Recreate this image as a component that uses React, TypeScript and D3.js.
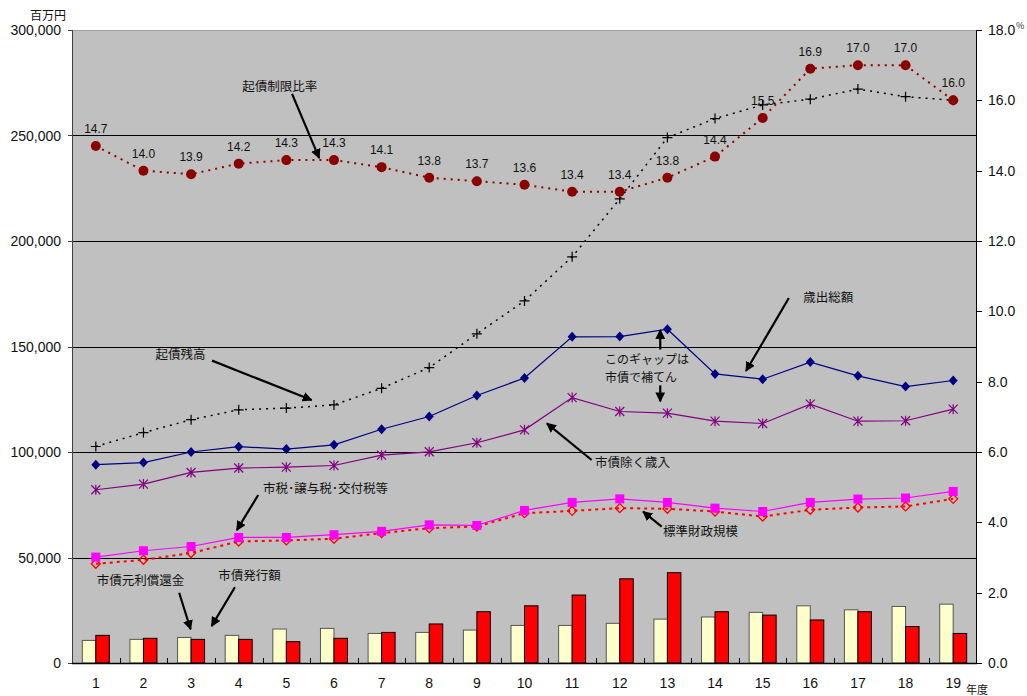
import React, { useEffect, useRef } from 'react'
import * as d3 from 'd3'

// 年度
const years = ['1', '2', '3', '4', '5', '6', '7', '8', '9', '10', '11', '12', '13', '14', '15', '16', '17', '18', '19']
// 起債制限比率 (%)
const ratio = [14.7, 14.0, 13.9, 14.2, 14.3, 14.3, 14.1, 13.8, 13.7, 13.6, 13.4, 13.4, 13.8, 14.4, 15.5, 16.9, 17.0, 17.0, 16.0]
// 百万円
const debtBalance = [102600, 109200, 115300, 120000, 120800, 122300, 130200, 140000, 156000, 171600, 192500, 220000, 249000, 258000, 264500, 267200, 272000, 268400, 266700]
const expenditure = [94000, 95000, 100000, 102500, 101400, 103400, 110800, 116800, 126800, 135100, 154600, 154700, 158200, 137000, 134500, 142600, 136100, 131000, 133900]
const revenueExBonds = [82100, 84800, 90300, 92400, 92800, 93600, 98500, 100100, 104400, 110500, 125800, 119200, 118400, 114600, 113500, 122700, 114600, 114800, 120300]
const taxes = [50200, 53200, 55200, 59500, 59500, 60800, 62400, 65500, 65200, 72300, 76100, 77800, 76100, 73400, 71800, 76100, 77700, 78200, 81300]
const standardScale = [47000, 48900, 52100, 57600, 58100, 58900, 61600, 63900, 64700, 71000, 72100, 73400, 73100, 71800, 69400, 72600, 73700, 74200, 77800]
const repayment = [10700, 11200, 12100, 13100, 16100, 16400, 14000, 14500, 15600, 17800, 17800, 18800, 20800, 21800, 24000, 27100, 25200, 26800, 27900]
const issuance = [13100, 11700, 11200, 11200, 10100, 11700, 14500, 18500, 24300, 27100, 32200, 39900, 42800, 24300, 22700, 20400, 24300, 17300, 14000]

const leftTicks = [0, 50000, 100000, 150000, 200000, 250000, 300000]
const rightTicks = [0, 2, 4, 6, 8, 10, 12, 14, 16, 18]

// annotations in data units (x = year position, y = 百万円)
const notes = [
  { lines: ['起債制限比率'], x: 4.86, y: 273400, anchor: 'middle', from: [5.12, 269700], to: [5.69, 239300] },
  { lines: ['起債残高'], x: 2.78, y: 146000, anchor: 'middle', from: [3.44, 143300], to: [5.53, 124600] },
  { lines: ['市税･譲与税･交付税等'], x: 4.51, y: 82500, anchor: 'start', from: [4.41, 79600], to: [3.96, 63000] },
  { lines: ['歳出総額'], x: 15.85, y: 173400, anchor: 'start', from: [15.55, 173000], to: [14.65, 138400] },
  { lines: ['このギャップは', '市債で補てん'], x: 11.69, y: 143600, anchor: 'start', from: [12.85, 148600], to: [12.85, 157800] },
  { lines: [], x: 0, y: 0, anchor: 'start', from: [12.85, 131600], to: [12.85, 124000] },
  { lines: ['市債除く歳入'], x: 11.48, y: 94800, anchor: 'start', from: [11.41, 96200], to: [10.47, 113600] },
  { lines: ['標準財政規模'], x: 12.91, y: 62200, anchor: 'start', from: [12.88, 64600], to: [12.49, 71700] },
  { lines: ['市債元利償還金'], x: 1.02, y: 39000, anchor: 'start', from: [2.75, 33300], to: [2.99, 16000] },
  { lines: ['市債発行額'], x: 3.57, y: 41400, anchor: 'start', from: [3.92, 35900], to: [3.43, 17500] },
]

const W = 1027
const H = 696
const FONT = '"Liberation Sans", "Noto Sans CJK JP", sans-serif'
const JP = '"Noto Sans CJK JP", sans-serif'

export default function App() {
  const ref = useRef<SVGSVGElement>(null)

  useEffect(() => {
    const svg = d3.select(ref.current)
    svg.selectAll('*').remove()

    const left = 72, right = 977, top = 30, bottom = 663
    const x = d3.scaleLinear().domain([0.5, years.length + 0.5]).range([left, right])
    const y = d3.scaleLinear().domain([0, 300000]).range([bottom, top])
    const yR = d3.scaleLinear().domain([0, 18]).range([bottom, top])
    const cx = (i: number) => x(i + 1)

    svg.append('defs').append('marker')
      .attr('id', 'ah').attr('viewBox', '0 0 10 10').attr('refX', 9).attr('refY', 5)
      .attr('markerWidth', 4.5).attr('markerHeight', 4.5).attr('orient', 'auto')
      .attr('markerUnits', 'strokeWidth')
      .append('path').attr('d', 'M0,0 L10,5 L0,10 Z').attr('fill', '#000')

    // plot area
    svg.append('rect').attr('x', left).attr('y', top).attr('width', right - left).attr('height', bottom - top)
      .attr('fill', '#c0c0c0')
    svg.append('line').attr('x1', left).attr('x2', right).attr('y1', top + 0.5).attr('y2', top + 0.5)
      .attr('stroke', '#a0a0a0').attr('stroke-width', 1)

    svg.selectAll('line.grid').data(leftTicks.filter(d => d > 0 && d < 300000)).enter()
      .append('line').attr('class', 'grid')
      .attr('x1', left).attr('x2', right)
      .attr('y1', d => Math.round(y(d)) + 0.5).attr('y2', d => Math.round(y(d)) + 0.5)
      .attr('stroke', '#000').attr('stroke-width', 1)

    // bars
    const bw = 13.5
    const bars = svg.append('g')
    bars.selectAll('rect.rep').data(repayment).enter().append('rect')
      .attr('x', (d, i) => cx(i) - bw).attr('width', bw)
      .attr('y', d => y(d)).attr('height', d => bottom - y(d))
      .attr('fill', '#ffffcc').attr('stroke', '#555').attr('stroke-width', 1)
    bars.selectAll('rect.iss').data(issuance).enter().append('rect')
      .attr('x', (d, i) => cx(i)).attr('width', bw)
      .attr('y', d => y(d)).attr('height', d => bottom - y(d))
      .attr('fill', '#ff0000').attr('stroke', '#000').attr('stroke-width', 1)

    // axes
    svg.append('line').attr('x1', left + 0.5).attr('x2', left + 0.5).attr('y1', top).attr('y2', bottom)
      .attr('stroke', '#404040')
    svg.append('line').attr('x1', right - 0.5).attr('x2', right - 0.5).attr('y1', top).attr('y2', bottom)
      .attr('stroke', '#000')
    svg.append('line').attr('x1', left).attr('x2', right).attr('y1', bottom + 0.5).attr('y2', bottom + 0.5)
      .attr('stroke', '#000').attr('stroke-width', 1.5)

    svg.selectAll('line.lt').data(leftTicks).enter().append('line')
      .attr('x1', left - 4).attr('x2', left).attr('y1', d => Math.round(y(d)) + 0.5).attr('y2', d => Math.round(y(d)) + 0.5)
      .attr('stroke', '#404040')
    svg.selectAll('text.lt').data(leftTicks).enter().append('text')
      .attr('x', 61).attr('y', d => y(d)).attr('dy', '0.36em').attr('text-anchor', 'end')
      .attr('font-family', FONT).attr('font-size', 14).attr('fill', '#111')
      .text(d => d3.format(',')(d))

    svg.selectAll('line.rt').data(rightTicks).enter().append('line')
      .attr('x1', right).attr('x2', right + 5).attr('y1', d => Math.round(yR(d)) + 0.5).attr('y2', d => Math.round(yR(d)) + 0.5)
      .attr('stroke', '#000')
    svg.selectAll('text.rt').data(rightTicks).enter().append('text')
      .attr('x', 988).attr('y', d => yR(d)).attr('dy', '0.36em')
      .attr('font-family', FONT).attr('font-size', 14).attr('fill', '#111')
      .text(d => d3.format('.1f')(d))
    svg.append('text').attr('x', 1016).attr('y', 29).attr('font-family', JP).attr('font-size', 9).attr('fill', '#333').text('%')

    svg.selectAll('line.xt').data(d3.range(1, years.length)).enter().append('line')
      .attr('x1', d => Math.round(x(d + 0.5)) + 0.5).attr('x2', d => Math.round(x(d + 0.5)) + 0.5)
      .attr('y1', bottom - 5).attr('y2', bottom).attr('stroke', '#000')
    svg.selectAll('text.xt').data(years).enter().append('text')
      .attr('x', (d, i) => cx(i)).attr('y', 688).attr('text-anchor', 'middle')
      .attr('font-family', FONT).attr('font-size', 14).attr('fill', '#111')
      .text(d => d)

    svg.append('text').attr('x', 30).attr('y', 20).attr('font-family', JP).attr('font-size', 12).attr('fill', '#111').text('百万円')
    svg.append('text').attr('x', 966).attr('y', 694).attr('font-family', JP).attr('font-size', 11).attr('fill', '#111').text('年度')

    const line = (vals: number[], sc: d3.ScaleLinear<number, number>) =>
      d3.line<number>().x((d, i) => cx(i)).y(d => sc(d))(vals)

    // 標準財政規模
    svg.append('path').attr('d', line(standardScale, y)).attr('fill', 'none')
      .attr('stroke', '#ff0000').attr('stroke-width', 2).attr('stroke-dasharray', '3,4')
    svg.selectAll('path.std').data(standardScale).enter().append('path')
      .attr('transform', (d, i) => `translate(${cx(i)},${y(d)})`)
      .attr('d', 'M0,-4.5 L4.5,0 L0,4.5 L-4.5,0 Z').attr('fill', 'none').attr('stroke', '#ff0000').attr('stroke-width', 1.3)

    // 市税・譲与税・交付税等
    svg.append('path').attr('d', line(taxes, y)).attr('fill', 'none').attr('stroke', '#ff00ff').attr('stroke-width', 1.2)
    svg.selectAll('rect.tax').data(taxes).enter().append('rect')
      .attr('x', (d, i) => cx(i) - 4.5).attr('y', d => y(d) - 4.5).attr('width', 9).attr('height', 9).attr('fill', '#ff00ff')

    // 市債除く歳入
    svg.append('path').attr('d', line(revenueExBonds, y)).attr('fill', 'none').attr('stroke', '#800080').attr('stroke-width', 1.2)
    svg.selectAll('path.rev').data(revenueExBonds).enter().append('path')
      .attr('transform', (d, i) => `translate(${cx(i)},${y(d)})`)
      .attr('d', 'M0,-5 L0,5 M-4.5,-4.5 L4.5,4.5 M-4.5,4.5 L4.5,-4.5').attr('stroke', '#800080').attr('stroke-width', 1.2)

    // 歳出総額
    svg.append('path').attr('d', line(expenditure, y)).attr('fill', 'none').attr('stroke', '#000080').attr('stroke-width', 1.2)
    svg.selectAll('path.exp').data(expenditure).enter().append('path')
      .attr('transform', (d, i) => `translate(${cx(i)},${y(d)})`)
      .attr('d', 'M0,-5 L4.5,0 L0,5 L-4.5,0 Z').attr('fill', '#000080')

    // 起債残高
    svg.append('path').attr('d', line(debtBalance, y)).attr('fill', 'none')
      .attr('stroke', '#000').attr('stroke-width', 1.5).attr('stroke-dasharray', '2,5')
    svg.selectAll('path.debt').data(debtBalance).enter().append('path')
      .attr('transform', (d, i) => `translate(${cx(i)},${y(d)})`)
      .attr('d', 'M-5,0 L5,0 M0,-5 L0,5').attr('stroke', '#000').attr('stroke-width', 1.2)

    // 起債制限比率
    svg.append('path').attr('d', line(ratio, yR)).attr('fill', 'none')
      .attr('stroke', '#8b0000').attr('stroke-width', 2).attr('stroke-dasharray', '2,5')
    svg.selectAll('circle.ratio').data(ratio).enter().append('circle')
      .attr('cx', (d, i) => cx(i)).attr('cy', d => yR(d)).attr('r', 5).attr('fill', '#8b0000')
    svg.selectAll('text.ratio').data(ratio).enter().append('text')
      .attr('x', (d, i) => cx(i)).attr('y', d => yR(d) - 13).attr('text-anchor', 'middle')
      .attr('font-family', FONT).attr('font-size', 12).attr('fill', '#111')
      .text(d => d3.format('.1f')(d))

    // annotations
    const ann = svg.append('g')
    notes.forEach(n => {
      const multi = n.lines.length > 1
      n.lines.forEach((s, k) => {
        ann.append('text').attr('x', x(n.x)).attr('y', y(n.y) + k * 17.5).attr('dy', '0.36em')
          .attr('text-anchor', n.anchor).attr('font-family', JP).attr('font-size', multi ? 12 : 12.5)
          .attr('fill', '#111').text(s)
      })
      ann.append('line').attr('x1', x(n.from[0])).attr('y1', y(n.from[1]))
        .attr('x2', x(n.to[0])).attr('y2', y(n.to[1]))
        .attr('stroke', '#000').attr('stroke-width', 2.2).attr('marker-end', 'url(#ah)')
    })
  }, [])

  return (
    <svg ref={ref} width={W} height={H} style={{ position: 'absolute', left: 0, top: 0, background: '#fff' }} />
  )
}
